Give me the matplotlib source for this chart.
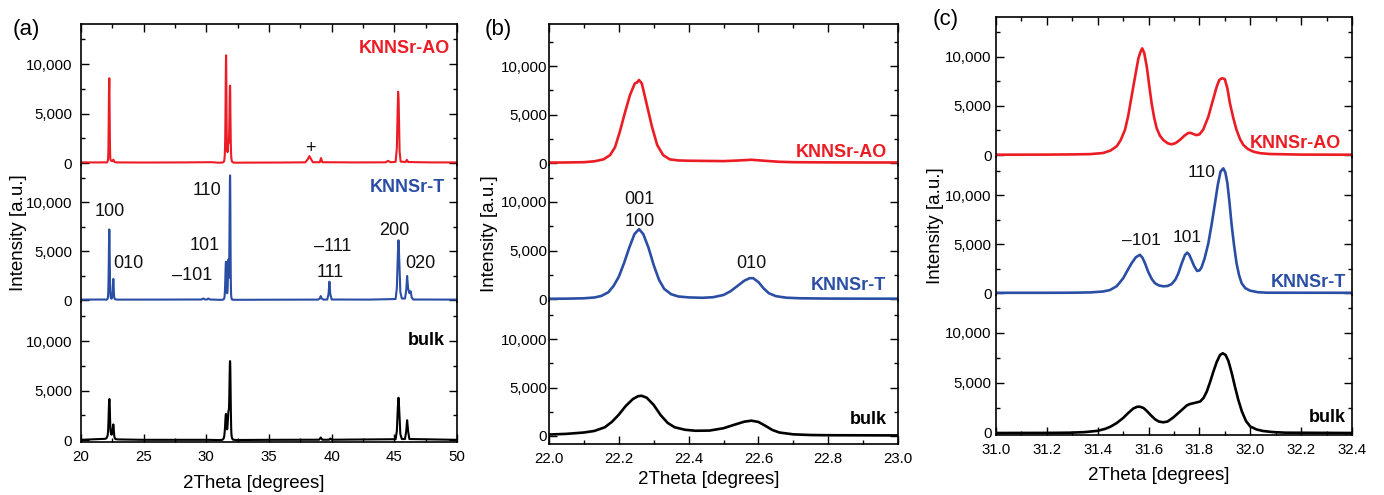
import matplotlib
matplotlib.use("Agg")
import matplotlib.pyplot as plt
from matplotlib.ticker import FixedLocator, MultipleLocator, FuncFormatter

plt.rcParams['font.family'] = ['Liberation Sans', 'DejaVu Sans']

# measured XRD scans (2theta in degrees, intensity in counts)
ao_x = [20.0, 21.5, 21.9,
        22.00, 22.05, 22.10, 22.13, 22.156, 22.175, 22.189, 22.203, 22.217, 22.232, 22.246,
        22.252, 22.258, 22.266, 22.276, 22.295, 22.31, 22.327, 22.346, 22.37, 22.40, 22.45,
        22.50, 22.54, 22.58, 22.62, 22.66, 22.70, 22.80, 22.90, 23.00,
        25.0, 28.0, 30.0, 30.5,
        31.00, 31.20, 31.30, 31.37, 31.42, 31.45, 31.475, 31.49, 31.507, 31.52, 31.533,
        31.547, 31.56, 31.568, 31.575, 31.583, 31.593, 31.602, 31.612, 31.622, 31.632,
        31.645, 31.658, 31.675, 31.69, 31.705, 31.723, 31.74, 31.756, 31.766, 31.776,
        31.788, 31.80, 31.815, 31.835, 31.852, 31.868, 31.878, 31.887, 31.895, 31.90,
        31.91, 31.92, 31.933, 31.946, 31.96, 31.973, 31.99, 32.012, 32.04, 32.078, 32.20,
        32.40,
        33.0, 36.0, 37.9, 38.1, 38.22, 38.35, 38.5, 39.05, 39.15, 39.25, 42.0, 44.3, 44.5,
        44.7, 45.1, 45.2, 45.27, 45.3, 45.34, 45.42, 45.5, 45.9, 46.0, 46.1, 48.0, 50.0]
ao_y = [60, 60, 70,
        50, 60, 90, 180, 380, 820, 1620, 3230, 5120, 7010, 8210,
        8300, 8560, 8200, 6670, 3750, 1860, 820, 380, 270, 240, 220,
        200, 260, 340, 230, 130, 90, 70, 60, 60,
        50, 60, 80, 80,
        30, 40, 60, 90, 200, 450, 900, 1500, 2550, 4000, 5950,
        8000, 9860, 10500, 10880, 10400, 9000, 7200, 5270, 3800, 2720,
        1950, 1530, 1200, 1090, 1200, 1530, 1950, 2250, 2250, 2140,
        2030, 2100, 2600, 3900, 5500, 6970, 7650, 7820, 7800, 7720,
        6800, 5270, 3800, 2550, 1600, 1020, 620, 340, 180, 100, 40,
        30,
        40, 50, 70, 400, 700, 400, 80, 80, 500, 80, 60, 70, 220,
        80, 120, 1500, 5500, 7200, 6500, 1200, 150, 100, 320, 100, 60, 60]

t_x = [20.0, 21.9,
       22.00, 22.05, 22.10, 22.13, 22.15, 22.17, 22.185, 22.20, 22.215, 22.23, 22.245,
       22.258, 22.27, 22.285, 22.30, 22.315, 22.33, 22.35, 22.37, 22.40, 22.44, 22.47,
       22.50, 22.52, 22.54, 22.56, 22.575, 22.585, 22.60, 22.615, 22.63, 22.65, 22.68,
       22.72, 22.80, 22.90, 23.00,
       25.0, 29.6, 29.75, 29.9, 30.05, 30.15, 30.3,
       31.00, 31.20, 31.30, 31.37, 31.42, 31.448, 31.475, 31.50, 31.517, 31.533, 31.55,
       31.566, 31.576, 31.586, 31.598, 31.612, 31.625, 31.64, 31.658, 31.675, 31.69,
       31.705, 31.717, 31.73, 31.743, 31.752, 31.76, 31.769, 31.78, 31.791, 31.80, 31.808,
       31.82, 31.835, 31.848, 31.861, 31.872, 31.883, 31.894, 31.902, 31.91, 31.918,
       31.926, 31.936, 31.946, 31.956, 31.966, 31.98, 31.999, 32.03, 32.065, 32.40,
       35.0, 38.9, 39.05, 39.13, 39.2, 39.35, 39.65, 39.75, 39.82, 39.89, 40.0, 43.0,
       45.1, 45.2, 45.28, 45.33, 45.38, 45.48, 45.6, 45.85, 45.95, 46.02, 46.1, 46.2,
       46.3, 46.38, 46.5, 50.0]
t_y = [40, 50,
       30, 40, 80, 160, 320, 700, 1350, 2300, 3700, 5300, 6700,
       7200, 6700, 5300, 3500, 2000, 1050, 500, 270, 170, 130, 190,
       420, 800, 1350, 1900, 2150, 2150, 1750, 1100, 600, 300, 140,
       80, 50, 40, 40,
       40, 50, 150, 50, 50, 150, 50,
       20, 20, 30, 60, 150, 300, 700, 1500, 2300, 3030, 3650,
       3900, 3600, 3030, 2200, 1450, 1000, 780, 680, 720, 900,
       1350, 2000, 3000, 3880, 4120, 3900, 3370, 2700, 2250, 2300, 2600,
       3500, 5070, 7000, 9150, 11000, 12400, 12720, 12300, 11200, 9300,
       7110, 4900, 3030, 1800, 1000, 500, 240, 80, 30, 20,
       30, 40, 150, 400, 150, 40, 50, 600, 1870, 600, 50, 40,
       100, 1200, 4600, 6100, 4600, 800, 150, 150, 1000, 2450, 1200, 700,
       900, 300, 50, 40]

bulk_x = [20.0, 21.9,
          22.00, 22.05, 22.10, 22.13, 22.16, 22.18, 22.20, 22.22, 22.24, 22.255, 22.265,
          22.28, 22.30, 22.32, 22.34, 22.36, 22.39, 22.42, 22.46, 22.50, 22.53, 22.56,
          22.58, 22.60, 22.62, 22.64, 22.66, 22.70, 22.75, 22.80, 23.00,
          25.0, 30.0,
          31.00, 31.20, 31.29, 31.35, 31.40, 31.43, 31.45, 31.475, 31.50, 31.52, 31.54,
          31.555, 31.566, 31.58, 31.592, 31.61, 31.625, 31.64, 31.658, 31.675, 31.697,
          31.717, 31.737, 31.75, 31.763, 31.78, 31.803, 31.816, 31.829, 31.842, 31.855,
          31.868, 31.881, 31.892, 31.903, 31.914, 31.927, 31.94, 31.953, 31.967, 31.983,
          32.00, 32.025, 32.05, 32.09, 32.14, 32.40,
          35.0, 39.0, 39.13, 39.25, 39.8, 39.9, 40.0, 45.1, 45.2, 45.28, 45.33, 45.38,
          45.48, 45.6, 45.85, 45.95, 46.02, 46.1, 46.2, 50.0]
bulk_y = [20, 120,
          150, 220, 360, 520, 900, 1450, 2200, 3100, 3800, 4100, 4150,
          3950, 3200, 2150, 1350, 900, 640, 540, 560, 800, 1150, 1480,
          1580, 1450, 1050, 620, 360, 170, 100, 80, 60,
          20, 20,
          0, 10, 30, 90, 220, 420, 630, 1000, 1500, 2000, 2450,
          2620, 2630, 2500, 2230, 1750, 1380, 1150, 1070, 1150, 1550,
          2000, 2450, 2750, 2900, 3000, 3150, 3500, 4150, 5100, 6150,
          7100, 7800, 7970, 7800, 7200, 6000, 4600, 3300, 2150, 1200,
          650, 350, 200, 90, 30, 0,
          20, 30, 250, 30, 30, 150, 30, 80, 900, 3300, 4270, 3300,
          600, 100, 100, 900, 2000, 900, 100, 20]

samples = ['KNNSr-AO', 'KNNSr-T', 'bulk']
colors = ['#ec1c24', '#2b4ea5', 'black']
scans = [(ao_x, ao_y), (t_x, t_y), (bulk_x, bulk_y)]

W, H = 1384, 495

# panel layout in pixels: left, right, stack boundaries, y-limits, x range, ticks
panels = [
    dict(tag='(a)', L=81, R=457, bounds=[24, 165, 302, 442],
         ylims=[(-200, 14040), (-204, 13780), (-200, 13940)],
         xlim=(20, 50), major=5, minor=2.5, fmt='{:.0f}', lw=1.5, ypad=6.5,
         tagxy=(13, 30), ylab_x=19, xlab=(254, 483),
         names=[(49.45, 11600), (49.05, 11500), (49.0, 10100)]),
    dict(tag='(b)', L=549, R=898, bounds=[24, 165, 301, 444],
         ylims=[(-200, 14330), (-200, 13810), (-825, 13920)],
         xlim=(22.0, 23.0), major=0.2, minor=0.1, fmt='{:.1f}', lw=1.9, ypad=1.5,
         tagxy=(485, 30), ylab_x=490, xlab=(709, 480),
         names=[(22.968, 1130), (22.967, 1440), (22.968, 1750)]),
    dict(tag='(c)', L=996, R=1352, bounds=[17, 157, 295, 435],
         ylims=[(-204, 14080), (-204, 13880), (-200, 13800)],
         xlim=(31.0, 32.4), major=0.2, minor=0.1, fmt='{:.1f}', lw=1.9, ypad=3,
         tagxy=(933, 20), ylab_x=935, xlab=(1159, 475),
         names=[(32.357, 1220), (32.376, 1120), (32.376, 1500)]),
]

# peak labels: panel index, sample index, text, x, y
peak_labels = [
    (0, 0, '+', 38.3, 1500),
    (0, 1, '100', 22.3, 9000), (0, 1, '010', 23.75, 3700), (0, 1, '\u2013101', 28.85, 2450),
    (0, 1, '101', 29.9, 5600), (0, 1, '110', 30.05, 11200), (0, 1, '\u2013111', 40.1, 5500),
    (0, 1, '111', 39.9, 2850), (0, 1, '200', 45.0, 7100), (0, 1, '020', 47.1, 3700),
    (1, 1, '001', 22.26, 10300), (1, 1, '100', 22.26, 8000), (1, 1, '010', 22.58, 3700),
    (2, 1, '110', 31.81, 12250), (2, 1, '\u2013101', 31.57, 5400), (2, 1, '101', 31.75, 5700),
]

fig = plt.figure(figsize=(W / 100, H / 100), dpi=100)
fmt_int = FuncFormatter(lambda v, p: f'{int(round(v)):,}')

for pi, p in enumerate(panels):
    b = p['bounds']
    for k in range(3):
        rect = [p['L'] / W, 1 - b[k + 1] / H, (p['R'] - p['L']) / W, (b[k + 1] - b[k]) / H]
        ax = fig.add_axes(rect)
        ax.patch.set_alpha(0)
        x, y = scans[k]
        ax.plot(x, y, color=colors[k], lw=p['lw'], solid_joinstyle='round')
        ax.set_xlim(*p['xlim'])
        ax.set_ylim(*p['ylims'][k])
        ax.yaxis.set_major_locator(FixedLocator([0, 5000, 10000]))
        ax.yaxis.set_minor_locator(MultipleLocator(2500))
        ax.yaxis.set_major_formatter(fmt_int)
        ax.xaxis.set_major_locator(MultipleLocator(p['major']))
        ax.xaxis.set_minor_locator(MultipleLocator(p['minor']))
        ax.xaxis.set_major_formatter(FuncFormatter(lambda v, q, f=p['fmt']: f.format(v)))
        ax.tick_params(which='both', direction='in', left=True, right=True,
                       top=(k == 0), bottom=(k == 2), labelbottom=(k == 2),
                       labelsize=10.8, width=1.0)
        ax.tick_params(axis='y', pad=p['ypad'])
        ax.tick_params(axis='x', pad=6)
        ax.tick_params(which='major', length=5.5)
        ax.tick_params(which='minor', length=3)
        for s in ax.spines.values():
            s.set_linewidth(1.2)
        if k > 0:
            ax.spines['top'].set_visible(False)
        if k < 2:
            ax.spines['bottom'].set_visible(False)
        nx, ny = p['names'][k]
        ax.text(nx, ny, samples[k], color=colors[k], fontsize=13, fontweight='bold',
                ha='right', va='center')
        for (pp, kk, txt, tx, ty) in peak_labels:
            if pp == pi and kk == k:
                ax.text(tx, ty, txt, fontsize=13 if pi < 2 else 12.5,
                        ha='center', va='center', color='#111111')

    fig.text(p['tagxy'][0] / W, 1 - p['tagxy'][1] / H, p['tag'], fontsize=16,
             ha='left', va='center')
    fig.text(p['ylab_x'] / W, 1 - (b[0] + b[3]) / 2 / H, 'Intensity [a.u.]',
             rotation=90, fontsize=13.5, ha='center', va='center')
    fig.text(p['xlab'][0] / W, 1 - p['xlab'][1] / H, '2Theta [degrees]',
             fontsize=13.5, ha='center', va='center')

fig.savefig('out.png', dpi=100)
